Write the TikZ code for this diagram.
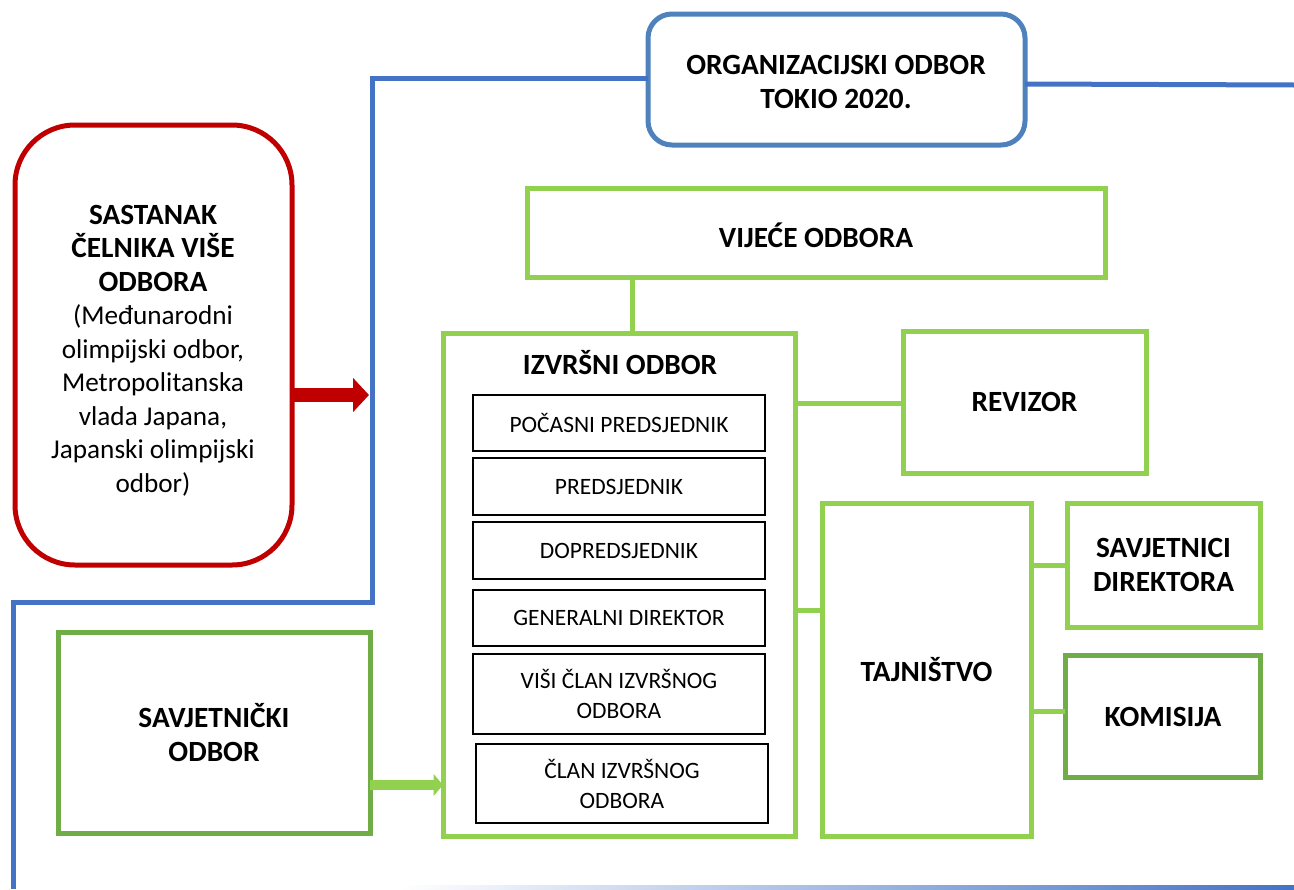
\documentclass[tikz,border=0pt]{standalone}
\usepackage{fontspec}
\setmainfont{Carlito}
\usetikzlibrary{fit,arrows.meta}
\definecolor{boxblue}{HTML}{4F81BD}
\definecolor{lineblue}{HTML}{4472C4}
\definecolor{dred}{HTML}{C00000}
\definecolor{lgreen}{HTML}{92D050}
\definecolor{dgreen}{HTML}{70AD47}
\tikzset{
  big/.style={font=\fontsize{22}{25.5}\selectfont\bfseries, align=center, inner sep=0pt},
  reg/.style={font=\fontsize{20.4}{25.1}\selectfont, align=center, inner sep=0pt},
  small/.style={font=\fontsize{17.6}{22.5}\selectfont, align=center, inner sep=0pt},
  frame/.style={draw, rectangle, inner sep=0pt, outer sep=0pt, line width=3.75pt},
  gbox/.style={frame, draw=lgreen},
  dbox/.style={frame, draw=dgreen},
  kbox/.style={draw=black, rectangle, inner sep=0pt, outer sep=0pt, line width=2.2pt},
  gcon/.style={draw=lgreen, line width=3.75pt},
  bcon/.style={draw=lineblue, line width=3.75pt},
}
\begin{document}
\begin{tikzpicture}[x=0.75pt,y=-0.75pt]
\useasboundingbox (0,0) rectangle (1294,889);

% faded line at the bottom
\shade[left color=white, right color=lineblue] (400,885.5) rectangle (1294,889);

% organizing committee
\node[frame, draw=boxblue, rounded corners=18pt, fit={(648,14) (1025,145)}] (org) {};
\node[big] (orgt) at (836,82) {ORGANIZACIJSKI ODBOR\\TOKIO 2020.};

\coordinate (b1) at (372,78);
\coordinate (b2) at (372,602);
\coordinate (b3) at (13,602);
\coordinate (b4) at (13,889);
\coordinate (b5) at (1294,85);
\draw[bcon] (org.west |- 0,78) -- (b1) -- (b2) -- (b3) -- (b4);
\draw[bcon] (org.east |- 0,84) -- (b5);

% red box
\node[frame, draw=dred, rounded corners=45pt, fit={(15,125) (292,565)}] (red) {};
\node[reg] (redtext) at (153,350.5) {{\fontsize{22}{25.5}\selectfont\bfseries SASTANAK}\\{\fontsize{22}{25.5}\selectfont\bfseries ČELNIKA VIŠE}\\{\fontsize{22}{25.5}\selectfont\bfseries ODBORA}\\(Međunarodni\\olimpijski odbor,\\Metropolitanska\\vlada Japana,\\Japanski olimpijski\\odbor)};
\coordinate (redtip) at (369,395);
\draw[draw=dred, line width=11pt, -{Triangle[length=12pt,width=25pt]}] (red.east |- 0,395) -- (redtip);

% council
\node[gbox, fit={(527,188) (1105,277)}] (vij) {};
\node[big] (vijt) at (816,235) {VIJEĆE ODBORA};

% executive board
\node[gbox, fit={(443,333) (795,836)}] (exe) {};
\node[big] (exetitle) at (620,363) {IZVRŠNI ODBOR};
\draw[gcon] (632,0 |- vij.south) -- (632,0 |- exe.north);

\node[kbox, fit={(473,395) (765,451)}] (m1) {};
\node[small] at (m1) {POČASNI PREDSJEDNIK};
\node[kbox, fit={(473,458) (765,515)}] (m2) {};
\node[small] at (m2) {PREDSJEDNIK};
\node[kbox, fit={(473,522) (765,579)}] (m3) {};
\node[small] at (m3) {DOPREDSJEDNIK};
\node[kbox, fit={(473,590) (765,646)}] (m4) {};
\node[small] at (m4) {GENERALNI DIREKTOR};
\node[kbox, fit={(473,654) (765,734)}] (m5) {};
\node[small] at (m5) {VIŠI ČLAN IZVRŠNOG\\ODBORA};
\node[kbox, fit={(476,744) (768,823)}] (m6) {};
\node[small] at (m6) {ČLAN IZVRŠNOG\\ODBORA};

% auditor
\node[gbox, fit={(903,331) (1146,473)}] (rev) {};
\node[big] at (rev) {REVIZOR};
\draw[gcon] (exe.east |- 0,403) -- (rev.west |- 0,403);

% secretariat
\node[gbox, fit={(822,503) (1031,836)}] (taj) {};
\node[big] at (taj) {TAJNIŠTVO};
\draw[gcon] (exe.east |- 0,610) -- (taj.west |- 0,610);

\node[gbox, fit={(1067,503) (1260,627)}] (sav) {};
\node[big] at (sav) {SAVJETNICI\\DIREKTORA};
\draw[gcon] (taj.east |- sav.west) -- (sav.west);

\node[dbox, fit={(1065,655) (1260,777)}] (kom) {};
\node[big] at (1163,717) {KOMISIJA};
\draw[gcon] (taj.east |- 0,711) -- (kom.west |- 0,711);

% advisory board
\node[dbox, fit={(58,632) (370,833)}] (adv) {};
\node[big] at (214,733) {SAVJETNIČKI\\ODBOR};
\draw[draw=lgreen, line width=7.5pt, -{Triangle[length=7pt,width=16pt]}] (adv.east |- 0,785) -- (exe.west |- 0,785);
\end{tikzpicture}
\end{document}
